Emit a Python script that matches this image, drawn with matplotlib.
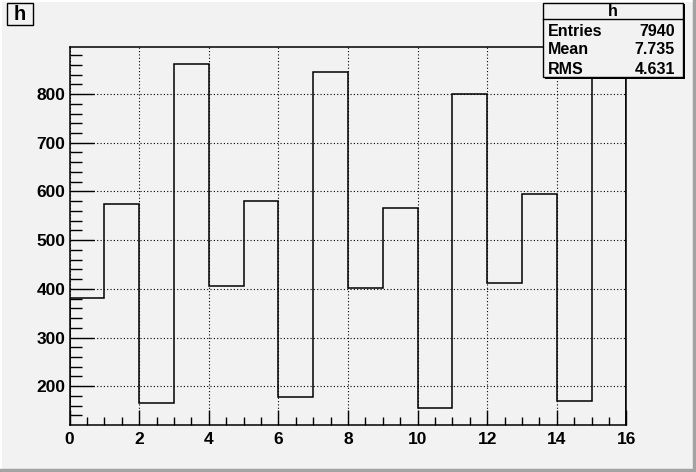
#!/usr/bin/python
"""ROOT style TH1 histogram redrawn with matplotlib."""

import numpy as np
import matplotlib
matplotlib.use('Agg')
import matplotlib.pyplot as plt
from matplotlib.patches import Rectangle
from matplotlib.ticker import MultipleLocator

# histogram content, one value per unit bin
bin_edges = list(range(0, 17))
bin_counts = [381, 575, 166, 861, 405, 581, 177, 845,
              401, 566, 156, 800, 412, 595, 170, 849]
hist_name = 'h'
stat_labels = ['Entries', 'Mean', 'RMS']
stat_values = ['7940', '7.735', '4.631']

bg = '#f2f2f2'
W, H = 696, 472

plt.rcParams['font.family'] = ['Liberation Sans', 'DejaVu Sans']
plt.rcParams['font.weight'] = 'bold'

fig = plt.figure(figsize=(W / 100, H / 100), dpi=100, facecolor=bg)
ax = fig.add_axes([0.1, 0.1, 0.8, 0.8])
ax.set_facecolor(bg)

# y range like ROOT: 5% margin of (max-min) on both sides
ymin, ymax = min(bin_counts), max(bin_counts)
marg = 0.05 * (ymax - ymin)
ax.set_xlim(0, 16)
ax.set_ylim(ymin - marg, ymax + marg)

ax.grid(True, which='major', color='black', linestyle=(0, (1, 2)), linewidth=0.8)
ax.set_axisbelow(True)
ax.stairs(bin_counts, bin_edges, color='black', linewidth=1.1, baseline=None)
# vertical edges at both ends of the histogram
ax.vlines([bin_edges[0], bin_edges[-1]], ymin - marg, [bin_counts[0], bin_counts[-1]],
          color='black', linewidth=1.1)

ax.xaxis.set_major_locator(MultipleLocator(2))
ax.xaxis.set_minor_locator(MultipleLocator(0.5))
ax.yaxis.set_major_locator(MultipleLocator(100))
ax.yaxis.set_minor_locator(MultipleLocator(20))
ax.tick_params(axis='x', which='major', direction='in', length=11, width=1, pad=5,
               labelsize=12.5, top=False)
ax.tick_params(axis='x', which='minor', direction='in', length=5.5, width=1, top=False)
ax.tick_params(axis='y', which='major', direction='in', length=17, width=1, pad=3,
               labelsize=12.5, right=False)
ax.tick_params(axis='y', which='minor', direction='in', length=8.5, width=1, right=False)
for lab in ax.get_xticklabels() + ax.get_yticklabels():
    lab.set_fontweight('bold')
for s in ax.spines.values():
    s.set_linewidth(1.1)


# boxes drawn in pixel coordinates (origin at top-left)
def box(x0, y0, x1, y1, shadow=2):
    fig.patches.append(Rectangle((x0 / W + shadow / W, 1 - (y1 + shadow) / H),
                                 (x1 - x0) / W, (y1 - y0) / H, transform=fig.transFigure,
                                 facecolor='black', edgecolor='none', zorder=5))
    fig.patches.append(Rectangle((x0 / W, 1 - y1 / H), (x1 - x0) / W, (y1 - y0) / H,
                                 transform=fig.transFigure, facecolor=bg,
                                 edgecolor='black', linewidth=1, zorder=6))


def ftext(x, y, s, **kw):
    fig.text(x / W, 1 - y / H, s, zorder=7, fontweight='bold', **kw)


# title box
box(6.5, 2.5, 32.5, 24.5, shadow=1.5)
ftext(19.5, 14, hist_name, ha='center', va='center', fontsize=14.5)

# stats box
box(542.5, 2.5, 682.5, 76.5, shadow=2)
fig.lines.append(plt.Line2D([542.5 / W, 682.5 / W], [1 - 19 / H, 1 - 19 / H],
                            transform=fig.transFigure, color='black', linewidth=1, zorder=7))
ftext(612.5, 11, hist_name, ha='center', va='center', fontsize=11.5)
for i in range(len(stat_labels)):
    yy = 31 + i * 19
    ftext(548, yy, stat_labels[i], ha='left', va='center', fontsize=11.5)
    ftext(675, yy, stat_values[i], ha='right', va='center', fontsize=11.5)

# canvas border: light top/left, grey bottom/right
fig.lines.append(plt.Line2D([0, 1], [1 - 0.5 / H, 1 - 0.5 / H], transform=fig.transFigure,
                            color='white', linewidth=1.5))
fig.lines.append(plt.Line2D([0.5 / W, 0.5 / W], [0, 1], transform=fig.transFigure,
                            color='white', linewidth=1.5))
fig.lines.append(plt.Line2D([(W - 2.5) / W] * 2, [0, 1], transform=fig.transFigure,
                            color='#a3a3a3', linewidth=2.5))
fig.lines.append(plt.Line2D([0, 1], [2.5 / H, 2.5 / H], transform=fig.transFigure,
                            color='#a3a3a3', linewidth=2.5))

fig.savefig('out.png', dpi=100, facecolor=bg)
